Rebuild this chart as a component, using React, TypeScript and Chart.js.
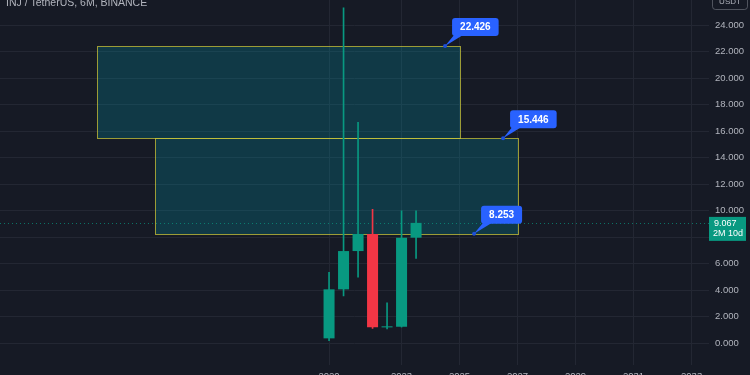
import React, { useEffect, useRef } from "react";
import { Chart, registerables } from "chart.js";

Chart.register(...registerables);

// ---- DATA ----
const periods = ["2020H2", "2021H1", "2021H2", "2022H1", "2022H2", "2023H1", "2023H2"];
const opens = [0.35, 4.05, 6.94, 8.23, 1.18, 1.22, 7.95];
const closes = [4.05, 6.94, 8.23, 1.18, 1.26, 7.95, 9.067];
const highs = [5.33, 25.3, 16.65, 10.09, 3.04, 9.98, 9.98];
const lows = [0.17, 3.55, 4.96, 1.1, 1.06, 1.2, 6.39];

const xTickIdx = [0, 5, 9, 13, 17, 21, 25];
const xTickLabels = ["2020", "2023", "2025", "2027", "2029", "2031", "2033"];
const yTicks = [0, 2, 4, 6, 8, 10, 12, 14, 16, 18, 20, 22, 24];

const zoneTops = [22.426, 15.446];
const zoneBottoms = [15.446, 8.253];
const zoneStartIdx = [-16, -12];
const zoneEndIdx = [9, 13];

const calloutValues = [22.426, 15.446, 8.253];
const calloutIdx = [8, 12, 10];

const lastPrice = 9.067;
const countdown = "2M 10d";
const title = "INJ / TetherUS, 6M, BINANCE";
const currency = "USDT";

const UP = "#089981";
const DOWN = "#f23645";
const BG = "#161a25";
const GRID = "#232733";
const TEXT = "#b2b5be";
const FONT = "'Liberation Sans', Arial, sans-serif";

function roundRect(ctx: CanvasRenderingContext2D, x: number, y: number, w: number, h: number, r: number) {
  ctx.beginPath();
  ctx.moveTo(x + r, y);
  ctx.lineTo(x + w - r, y);
  ctx.quadraticCurveTo(x + w, y, x + w, y + r);
  ctx.lineTo(x + w, y + h - r);
  ctx.quadraticCurveTo(x + w, y + h, x + w - r, y + h);
  ctx.lineTo(x + r, y + h);
  ctx.quadraticCurveTo(x, y + h, x, y + h - r);
  ctx.lineTo(x, y + r);
  ctx.quadraticCurveTo(x, y, x + r, y);
  ctx.closePath();
}

const overlayPlugin = {
  id: "overlay",
  beforeDraw(chart: any) {
    const ctx = chart.ctx;
    ctx.save();
    ctx.fillStyle = BG;
    ctx.fillRect(0, 0, chart.width, chart.height);
    ctx.restore();
  },
  beforeDatasetsDraw(chart: any) {
    const ctx = chart.ctx;
    const xs = chart.scales.x;
    const ys = chart.scales.y;
    const area = chart.chartArea;
    ctx.save();
    // zones
    for (let i = 0; i < zoneTops.length; i++) {
      const x0 = Math.round(xs.getPixelForValue(zoneStartIdx[i])) + 0.5;
      const x1 = Math.round(xs.getPixelForValue(zoneEndIdx[i])) + 0.5;
      const y0 = Math.round(ys.getPixelForValue(zoneTops[i])) + 0.5;
      const y1 = Math.round(ys.getPixelForValue(zoneBottoms[i])) + 0.5;
      ctx.fillStyle = "rgba(0,150,170,0.25)";
      ctx.fillRect(x0, y0, x1 - x0, y1 - y0);
      ctx.strokeStyle = "rgba(215,205,55,0.7)";
      ctx.lineWidth = 1;
      ctx.strokeRect(x0, y0, x1 - x0, y1 - y0);
    }
    // last price dotted line
    const py = Math.round(ys.getPixelForValue(lastPrice)) + 0.5;
    ctx.strokeStyle = "rgba(8,153,129,0.7)";
    ctx.setLineDash([1, 3]);
    ctx.beginPath();
    ctx.moveTo(area.left, py);
    ctx.lineTo(area.right, py);
    ctx.stroke();
    ctx.setLineDash([]);
    ctx.restore();
  },
  afterDraw(chart: any) {
    const ctx = chart.ctx;
    const xs = chart.scales.x;
    const ys = chart.scales.y;
    const area = chart.chartArea;
    ctx.save();
    // callouts
    ctx.font = `bold 10px ${FONT}`;
    for (let i = 0; i < calloutValues.length; i++) {
      const ax = xs.getPixelForValue(calloutIdx[i]);
      const ay = ys.getPixelForValue(calloutValues[i]);
      const txt = calloutValues[i].toFixed(3);
      const tw = ctx.measureText(txt).width;
      const bw = tw + 16;
      const bh = 18;
      const bx = ax + 7;
      const by = ay - 10 - bh;
      ctx.fillStyle = "#2962ff";
      ctx.beginPath();
      ctx.moveTo(ax, ay);
      ctx.lineTo(bx + 2, by + bh - 1);
      ctx.lineTo(bx + 11, by + bh - 1);
      ctx.closePath();
      ctx.fill();
      roundRect(ctx, bx, by, bw, bh, 3);
      ctx.fill();
      ctx.beginPath();
      ctx.arc(ax, ay, 2, 0, Math.PI * 2);
      ctx.fillStyle = "#1e4fd8";
      ctx.fill();
      ctx.fillStyle = "#ffffff";
      ctx.textAlign = "center";
      ctx.textBaseline = "middle";
      ctx.fillText(txt, bx + bw / 2, by + bh / 2 + 0.5);
    }
    // price label on axis
    const py = ys.getPixelForValue(lastPrice);
    ctx.fillStyle = UP;
    ctx.fillRect(area.right, py - 6, 37, 24);
    ctx.fillStyle = "#ffffff";
    ctx.font = `9px ${FONT}`;
    ctx.textAlign = "left";
    ctx.textBaseline = "middle";
    ctx.fillText(lastPrice.toFixed(3), area.right + 5, py + 0.5);
    ctx.fillText(countdown, area.right + 4, py + 11);
    // title
    ctx.fillStyle = TEXT;
    ctx.font = `10.5px ${FONT}`;
    ctx.textBaseline = "middle";
    ctx.fillText(title, 6, 3);
    // currency box
    ctx.strokeStyle = "rgba(120,123,134,0.6)";
    ctx.lineWidth = 1;
    roundRect(ctx, 712.5, -6.5, 35, 16, 3);
    ctx.stroke();
    ctx.fillStyle = TEXT;
    ctx.font = `8px ${FONT}`;
    ctx.textAlign = "center";
    ctx.fillText(currency, 730, 2);
    ctx.restore();
  },
};

export default function App() {
  const ref = useRef<HTMLCanvasElement | null>(null);
  useEffect(() => {
    document.body.style.margin = "0";
    document.body.style.background = BG;
    document.body.style.overflow = "hidden";
    const canvas = ref.current!;
    const bodyColors = opens.map((o, i) => (closes[i] >= o ? UP : DOWN));
    const chart = new Chart(canvas, {
      type: "bar",
      data: {
        labels: periods,
        datasets: [
          {
            label: "body",
            data: periods.map((_, i) => ({ x: i, y: [opens[i], closes[i]] })) as any,
            backgroundColor: bodyColors,
            borderWidth: 0,
            barPercentage: 0.76,
            categoryPercentage: 1,
            grouped: false,
            order: 1,
            minBarLength: 1,
          } as any,
          {
            label: "wick",
            data: periods.map((_, i) => ({ x: i, y: [lows[i], highs[i]] })) as any,
            backgroundColor: bodyColors,
            borderWidth: 0,
            barThickness: 1,
            grouped: false,
            order: 2,
          } as any,
        ],
      },
      options: {
        responsive: false,
        animation: false,
        layout: { padding: 0 },
        plugins: { legend: { display: false }, tooltip: { enabled: false }, title: { display: false } },
        scales: {
          x: {
            type: "linear",
            position: "bottom",
            min: -22.69,
            max: 26.2,
            offset: false,
            grid: { color: GRID, drawTicks: false, offset: false },
            border: { display: false },
            ticks: {
              color: TEXT,
              font: { size: 9.5, family: FONT },
              padding: 6,
              maxRotation: 0,
              autoSkip: false,
              callback: (v: any) => {
                const k = xTickIdx.indexOf(Number(v));
                return k >= 0 ? xTickLabels[k] : "";
              },
            },
            afterBuildTicks: (s: any) => {
              s.ticks = xTickIdx.map((v) => ({ value: v }));
            },
            afterFit: (s: any) => {
              s.height = 10;
              s.paddingLeft = 0;
              s.paddingRight = 0;
              s.paddingTop = 0;
              s.paddingBottom = 0;
            },
          },
          y: {
            type: "linear",
            position: "right",
            min: -1.66,
            max: 25.89,
            grid: { color: GRID, drawTicks: false },
            border: { display: false },
            ticks: {
              color: TEXT,
              font: { size: 9.5, family: FONT },
              padding: 6,
              callback: (v: any) => Number(v).toFixed(3),
            },
            afterBuildTicks: (s: any) => {
              s.ticks = yTicks.map((v) => ({ value: v }));
            },
            afterFit: (s: any) => {
              s.width = 41;
              s.paddingTop = 0;
              s.paddingBottom = 0;
              s.paddingLeft = 0;
              s.paddingRight = 0;
            },
          },
        },
      },
      plugins: [overlayPlugin],
    });
    return () => chart.destroy();
  }, []);
  return (
    <div style={{ width: 750, height: 375, background: BG }}>
      <canvas ref={ref} width={750} height={375} style={{ display: "block" }} />
    </div>
  );
}
